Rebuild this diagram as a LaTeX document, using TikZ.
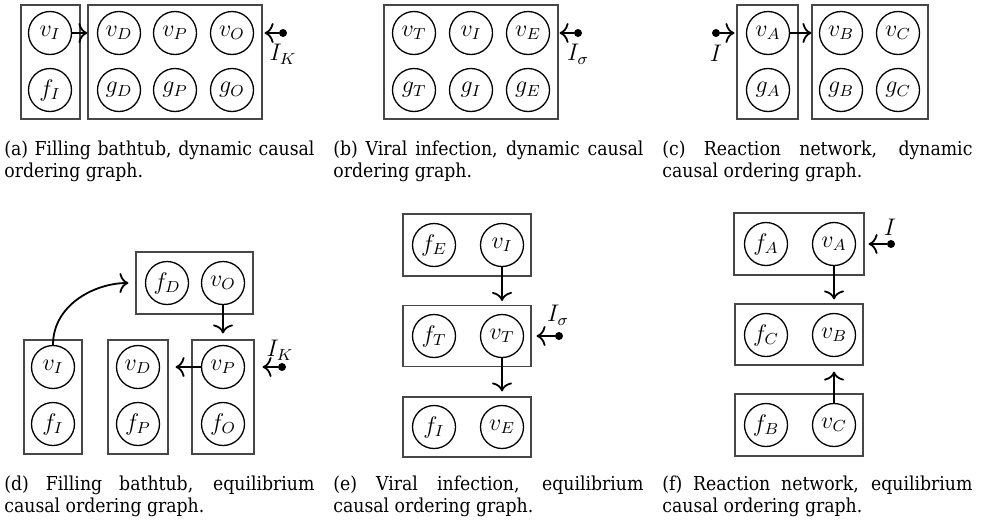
\documentclass[tikz,border=0pt]{standalone}
\usepackage{fontspec}
\setmainfont{DejaVu Serif Condensed}
\usetikzlibrary{arrows.meta}

\begin{document}
\begin{tikzpicture}[x=0.5pt,y=-0.5pt,
  every node/.style={inner sep=0pt},
  var/.style={circle,draw,line width=0.65pt,minimum size=21.5pt,inner sep=1pt,
    font=\fontsize{11.5}{13}\selectfont},
  box/.style n args={2}{draw=black!72,line width=0.55pt,
    minimum width=#1*0.5pt,minimum height=#2*0.5pt},
  arr/.style={-{To[length=4.5pt,width=10pt]},line width=0.9pt},
  dot/.style={circle,fill,minimum size=4pt},
  lab/.style={font=\fontsize{11.5}{13}\selectfont},
  captext/.style={anchor=base west,text width=155pt,align=justify,
    font=\fontsize{9.6}{11}\selectfont}]
\useasboundingbox (0,0) rectangle (983,525);

% ---------- (a) bathtub, dynamic ----------
\node[box={59}{114}] (aB1) at (50.5,62) {};
\node[box={174}{114}] (aB2) at (175,62) {};
\node[var] (avI) at (50,33) {$v_I$};
\node[var] (afI) at (50,90) {$f_I$};
\node[var] (avD) at (119,33) {$v_D$};
\node[var] (avP) at (175,33) {$v_P$};
\node[var] (avO) at (232,33) {$v_O$};
\node[var] (agD) at (119,90) {$g_D$};
\node[var] (agP) at (175,90) {$g_P$};
\node[var] (agO) at (232,90) {$g_O$};
\node[dot] (aIK) at (283,33) {};
\node[lab] (aIKl) at (283,54) {$I_K$};
\draw[arr] (avI.east) -- (avI.east -| aB2.west);
\draw[arr,shorten >=1pt] (aIK) -- (aIK -| aB2.east);

% ---------- (b) viral infection, dynamic ----------
\node[box={174}{114}] (bB) at (471,62) {};
\node[var] (bvT) at (414,33) {$v_T$};
\node[var] (bvI) at (471,33) {$v_I$};
\node[var] (bvE) at (528,33) {$v_E$};
\node[var] (bgT) at (414,90) {$g_T$};
\node[var] (bgI) at (471,90) {$g_I$};
\node[var] (bgE) at (528,90) {$g_E$};
\node[dot] (bIs) at (578,33) {};
\node[lab] (bIsl) at (578,54) {$I_\sigma$};
\draw[arr,shorten >=0.5pt] (bIs) -- (bIs -| bB.east);

% ---------- (c) reaction network, dynamic ----------
\node[box={61}{114}] (cB1) at (767.5,62) {};
\node[box={116}{114}] (cB2) at (870,62) {};
\node[var] (cvA) at (768,33) {$v_A$};
\node[var] (cgA) at (768,90) {$g_A$};
\node[var] (cvB) at (841,33) {$v_B$};
\node[var] (cvC) at (898,33) {$v_C$};
\node[var] (cgB) at (841,90) {$g_B$};
\node[var] (cgC) at (898,90) {$g_C$};
\node[dot] (cI) at (716,33) {};
\node[lab] (cIl) at (716,53) {$I$};
\draw[arr,shorten >=1pt] (cI) -- (cI -| cB1.west);
\draw[arr] (cvA.east) -- (cvA.east -| cB2.west);

% ---------- (d) bathtub, equilibrium ----------
\node[box={117}{62}] (dB0) at (194.5,283) {};
\node[box={58}{114}] (dB1) at (53,397) {};
\node[box={60}{114}] (dB2) at (138,397) {};
\node[box={62}{114}] (dB3) at (223,397) {};
\node[var] (dfD) at (167,283) {$f_D$};
\node[var] (dvO) at (223,283) {$v_O$};
\node[var] (dvI) at (53,367) {$v_I$};
\node[var] (dfI) at (53,424) {$f_I$};
\node[var] (dvD) at (138,367) {$v_D$};
\node[var] (dfP) at (138,424) {$f_P$};
\node[var] (dvP) at (223,367) {$v_P$};
\node[var] (dfO) at (223,424) {$f_O$};
\node[dot] (dIK) at (282,367) {};
\node[lab] (dIKl) at (280,350) {$I_K$};
\draw[arr,shorten >=3.5pt] (dvI.north) to[out=90,in=180] (dB0.west);
\draw[arr,shorten >=3pt] (dvO.south) -- (dvO.south |- dB3.north);
\draw[arr,shorten >=3.5pt] (dvP.west) -- (dvP.west -| dB2.east);
\draw[arr,shorten >=4pt] (dIK) -- (dIK -| dB3.east);

% ---------- (e) viral infection, equilibrium ----------
\node[box={128}{62}] (eB0) at (467,245) {};
\node[box={128}{61}] (eB1) at (467,336) {};
\node[box={128}{60}] (eB2) at (467,427) {};
\node[var] (efE) at (434,245) {$f_E$};
\node[var] (evI) at (502,245) {$v_I$};
\node[var] (efT) at (434,336) {$f_T$};
\node[var] (evT) at (502,336) {$v_T$};
\node[var] (efI) at (434,427) {$f_I$};
\node[var] (evE) at (502,427) {$v_E$};
\node[dot] (eIs) at (559,336) {};
\node[lab] (eIsl) at (558,315) {$I_\sigma$};
\draw[arr,shorten >=2pt] (evI.south) -- (evI.south |- eB1.north);
\draw[arr,shorten >=2.5pt] (evT.south) -- (evT.south |- eB2.north);
\draw[arr,shorten >=2.5pt] (eIs) -- (eIs -| eB1.east);

% ---------- (f) reaction network, equilibrium ----------
\node[box={130}{62}] (fB0) at (799,244) {};
\node[box={128}{61}] (fB1) at (799,334.5) {};
\node[box={128}{62}] (fB2) at (799,425) {};
\node[var] (ffA) at (766,244) {$f_A$};
\node[var] (fvA) at (834,244) {$v_A$};
\node[var] (ffC) at (766,335) {$f_C$};
\node[var] (fvB) at (834,335) {$v_B$};
\node[var] (ffB) at (766,425) {$f_B$};
\node[var] (fvC) at (834,425) {$v_C$};
\node[dot] (fI) at (891,244) {};
\node[lab] (fIl) at (890,227) {$I$};
\draw[arr,shorten >=2pt] (fvA.south) -- (fvA.south |- fB1.north);
\draw[arr,shorten >=3pt] (fvC.north) -- (fvC.north |- fB1.south);
\draw[arr,shorten >=2pt] (fI) -- (fI -| fB0.east);

% ---------- captions ----------
\node[captext] (capa) at (4,155.7) {(a) Filling bathtub, dynamic causal\linebreak ordering graph.};
\node[captext] (capb) at (333,155.7) {(b) Viral infection, dynamic causal\linebreak ordering graph.};
\node[captext] (capc) at (662,155.7) {(c) Reaction network, dynamic\linebreak causal ordering graph.};
\node[captext] (capd) at (4,490) {(d) Filling bathtub, equilibrium\linebreak causal ordering graph.};
\node[captext] (cape) at (333,490) {(e) Viral infection, equilibrium\linebreak causal ordering graph.};
\node[captext] (capf) at (662,490) {(f) Reaction network, equilibrium\linebreak causal ordering graph.};
\end{tikzpicture}
\end{document}
